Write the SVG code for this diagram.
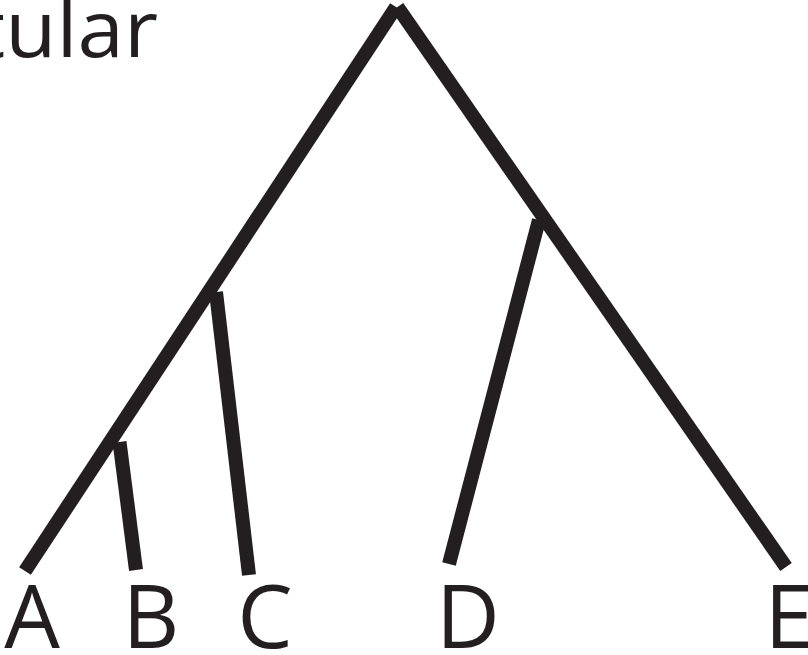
<svg xmlns="http://www.w3.org/2000/svg" width="808" height="655" viewBox="0 0 808 655">
<style>
.e{stroke:#231f20;stroke-width:14;stroke-linecap:butt;fill:none}
.t{font-family:"Open Sans","Liberation Sans",sans-serif;fill:#231f20}
.lab{font-size:88px;text-anchor:middle}
</style>
<rect width="808" height="655" fill="#fff"/>
<text class="t" transform="translate(158,57) scale(1.07,1)" x="0" y="0" font-size="78" font-weight="500" text-anchor="end">tular</text>
<g id="connectors">
<line class="e" x1="25" y1="571" x2="396" y2="7"/>
<line class="e" x1="397.5" y1="7" x2="786" y2="567"/>
<line class="e" x1="119.5" y1="442" x2="136" y2="570"/>
<line class="e" x1="216" y1="292" x2="249" y2="575"/>
<line class="e" x1="539" y1="220" x2="449" y2="564"/>
</g>
<g id="A"><text class="t lab" x="32" y="648">A</text></g>
<g id="B"><text class="t lab" x="151" y="648">B</text></g>
<g id="C"><text class="t lab" x="265" y="648">C</text></g>
<g id="D"><text class="t lab" x="468" y="648">D</text></g>
<g id="E"><text class="t lab" x="789" y="648">E</text></g>
</svg>
